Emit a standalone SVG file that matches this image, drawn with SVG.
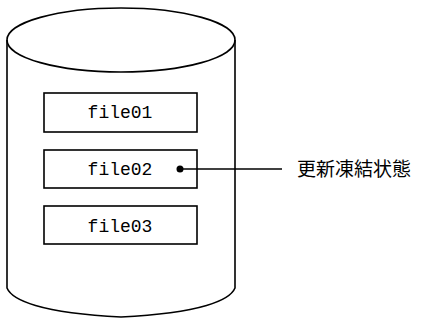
<svg xmlns="http://www.w3.org/2000/svg" width="423" height="320" viewBox="0 0 423 320">
<style>
.s{fill:none;stroke:#000;stroke-width:1.6}
.b{fill:#fff;stroke:#000;stroke-width:1.6}
.t{font-family:"Liberation Mono",monospace;font-size:18px;fill:#000;text-anchor:middle}
.j{font-family:"Noto Sans CJK JP",sans-serif;font-size:19px;fill:#000}
</style>
<rect width="423" height="320" fill="#fff"/>
<g id="cylinder">
<path class="s" d="M7,40 L7,288 C12,300 40,313 121,317 C202,313 230,300 235,288 L235,40"/>
<ellipse class="s" cx="121" cy="40" rx="114" ry="32"/>
</g>
<g id="file01"><rect class="b" x="44" y="93" width="153" height="39"/><text class="t" x="120" y="118">file01</text></g>
<g id="file02"><rect class="b" x="44" y="150" width="153" height="38"/><text class="t" x="120" y="175">file02</text></g>
<g id="file03"><rect class="b" x="44" y="206" width="153" height="38"/><text class="t" x="120" y="232">file03</text></g>
<g id="connectors">
<circle cx="180" cy="169" r="3.5" fill="#000"/>
<line class="s" x1="180" y1="169" x2="282" y2="169"/>
</g>
<g id="label"><text class="j" x="297" y="176">更新凍結状態</text></g>
</svg>
